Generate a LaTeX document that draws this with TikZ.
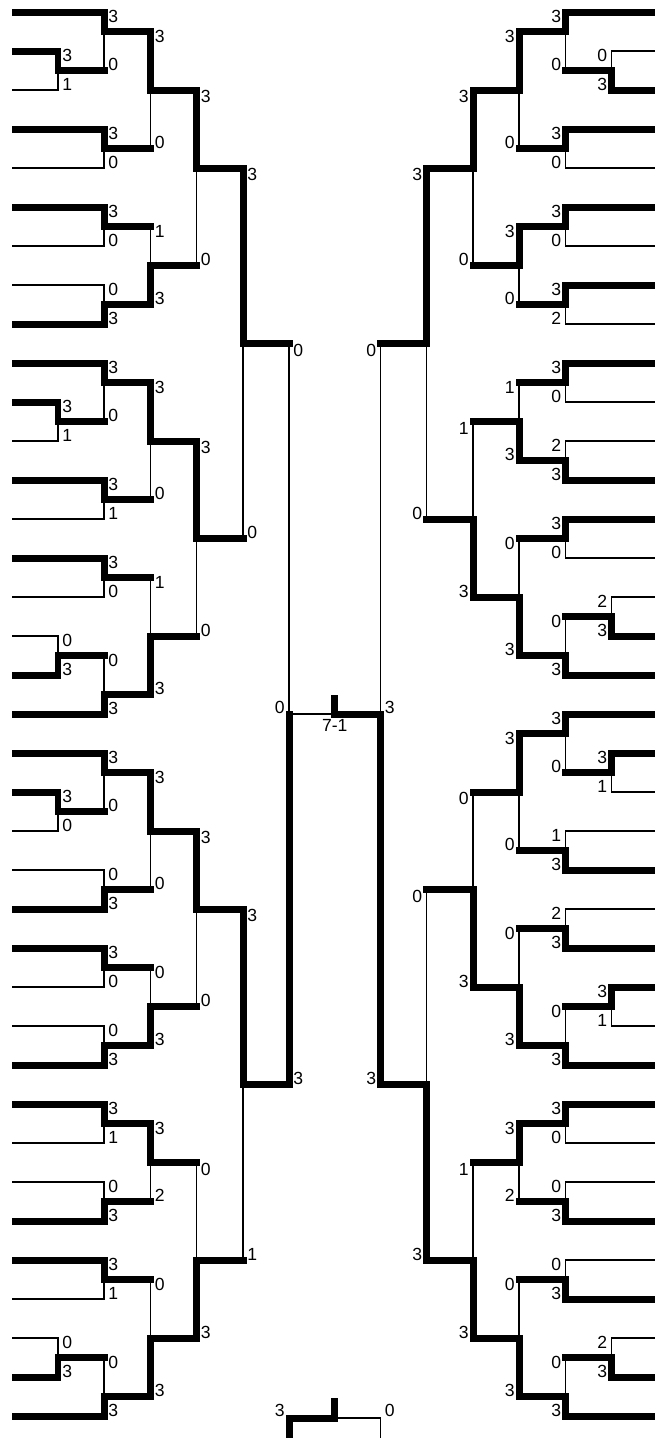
\documentclass[tikz,border=0pt]{standalone}
\usepackage{fontspec}
\setmainfont{Liberation Sans}
\usepackage{tikz}

\tikzset{
  won/.style={line width=0.14cm, line cap=rect},
  lost/.style={line width=0.035cm, line cap=rect},
  score/.style={inner sep=0pt, font=\fontsize{10}{12}\selectfont},
}

% columns of the left half (play-in, R1 ... R5); the right half is mirrored
\def\colL{{58,104,150.5,196.5,243,289}}

% #1 = +1 left / -1 right, #2 = score anchor, #3 = name prefix, #4 = games
% game = column/top/bottom/out/top score/bottom score/top leaf/bottom leaf
\newcommand{\half}[4]{%
  \foreach \c/\a/\b/\w/\p/\q/\la/\lb in {#4} {
    \pgfmathsetmacro{\xx}{334.75+(#1)*(\colL[\c]-334.75)}
    \pgfmathsetmacro{\xe}{334.75+(#1)*(12-334.75)}
    \pgfmathsetmacro{\xs}{\xx+4*(#1)}
    \pgfmathsetmacro{\ya}{12+19.5*\a}
    \pgfmathsetmacro{\yb}{12+19.5*\b}
    \pgfmathsetmacro{\yw}{12+19.5*\w}
    \pgfmathsetmacro{\yt}{\ya+(\c<3 ? 10.5 : 12.5)}
    \ifnum\p>\q\relax \def\ta{won}\def\tb{lost}\else\def\ta{lost}\def\tb{won}\fi
    % team lines
    \ifnum\la=1\relax \draw[\ta, line cap=butt] (\xe,\ya) -- (\xx,\ya); \fi
    \ifnum\lb=1\relax \draw[\tb, line cap=butt] (\xe,\yb) -- (\xx,\yb); \fi
    % the match
    \draw[\ta] (\xx,\ya) -- (\xx,\yw);
    \draw[\tb] (\xx,\yw) -- (\xx,\yb);
    \ifnum\c<5\relax
      \pgfmathsetmacro{\xn}{334.75+(#1)*(\colL[\c+1]-334.75)}
      \draw[won] (\xx,\yw) -- (\xn,\yw);
    \fi
    \node[score, anchor=base #2] (#3t\c-\a) at (\xs,\yt) {\p};
    \node[score, anchor=base #2] (#3b\c-\b) at (\xs,\yb) {\q};
  }
}

\begin{document}
\begin{tikzpicture}[x=0.02cm, y=-0.02cm]
    \useasboundingbox (0,0) rectangle (654,1438);

    % left half
    \half{1}{west}{L}{
      0/2/4/3/3/1/1/1, 0/20/22/21/3/1/1/1, 0/32/34/33/0/3/1/1,
      0/40/42/41/3/0/1/1, 0/68/70/69/0/3/1/1,
      1/0/3/1/3/0/1/0, 1/6/8/7/3/0/1/1, 1/10/12/11/3/0/1/1,
      1/14/16/15/0/3/1/1, 1/18/21/19/3/0/1/0, 1/24/26/25/3/1/1/1,
      1/28/30/29/3/0/1/1, 1/33/36/35/0/3/0/1, 1/38/41/39/3/0/1/0,
      1/44/46/45/0/3/1/1, 1/48/50/49/3/0/1/1, 1/52/54/53/0/3/1/1,
      1/56/58/57/3/1/1/1, 1/60/62/61/0/3/1/1, 1/64/66/65/3/1/1/1,
      1/69/72/71/0/3/0/1,
      2/1/7/4/3/0/0/0, 2/11/15/13/1/3/0/0, 2/19/25/22/3/0/0/0,
      2/29/35/32/1/3/0/0, 2/39/45/42/3/0/0/0, 2/49/53/51/0/3/0/0,
      2/57/61/59/3/2/0/0, 2/65/71/68/0/3/0/0,
      3/4/13/8/3/0/0/0, 3/22/32/27/3/0/0/0, 3/42/51/46/3/0/0/0,
      3/59/68/64/0/3/0/0,
      4/8/27/17/3/0/0/0, 4/46/64/55/3/1/0/0,
      5/17/55/36/0/3/0/0}

    % right half
    \half{-1}{east}{R}{
      0/2/4/3/0/3/1/1, 0/30/32/31/2/3/1/1, 0/38/40/39/3/1/1/1,
      0/50/52/51/3/1/1/1, 0/68/70/69/2/3/1/1,
      1/0/3/1/3/0/1/0, 1/6/8/7/3/0/1/1, 1/10/12/11/3/0/1/1,
      1/14/16/15/3/2/1/1, 1/18/20/19/3/0/1/1, 1/22/24/23/2/3/1/1,
      1/26/28/27/3/0/1/1, 1/31/34/33/0/3/0/1, 1/36/39/37/3/0/1/0,
      1/42/44/43/1/3/1/1, 1/46/48/47/2/3/1/1, 1/51/54/53/0/3/0/1,
      1/56/58/57/3/0/1/1, 1/60/62/61/0/3/1/1, 1/64/66/65/0/3/1/1,
      1/69/72/71/0/3/0/1,
      2/1/7/4/3/0/0/0, 2/11/15/13/3/0/0/0, 2/19/23/21/1/3/0/0,
      2/27/33/30/0/3/0/0, 2/37/43/40/3/0/0/0, 2/47/53/50/0/3/0/0,
      2/57/61/59/3/2/0/0, 2/65/71/68/0/3/0/0,
      3/4/13/8/3/0/0/0, 3/21/30/26/1/3/0/0, 3/40/50/45/0/3/0/0,
      3/59/68/64/1/3/0/0,
      4/8/26/17/3/0/0/0, 4/45/64/55/0/3/0/0,
      5/17/55/36/0/3/0/0}

    % final
    \draw[lost] (289,714) -- (334.75,714);
    \draw[won] (334.75,714) -- (380.5,714);
    \draw[won, line cap=butt] (334.75,695) -- (334.75,714);
    \node[score, anchor=base east] (fin-l) at (285,713) {0};
    \node[score, anchor=base west] (fin-r) at (384.5,713) {3};
    \node[score, anchor=north] (fin-note) at (334.75,719) {7-1};

    % third place
    \draw[won] (289,1418) -- (334.75,1418);
    \draw[lost] (334.75,1418) -- (380.5,1418);
    \draw[won] (289,1418) -- (289,1440);
    \draw[lost] (380.5,1418) -- (380.5,1440);
    \draw[won, line cap=butt] (334.75,1398) -- (334.75,1418);
    \node[score, anchor=base east] (third-l) at (285,1416) {3};
    \node[score, anchor=base west] (third-r) at (384.5,1416) {0};
\end{tikzpicture}
\end{document}
